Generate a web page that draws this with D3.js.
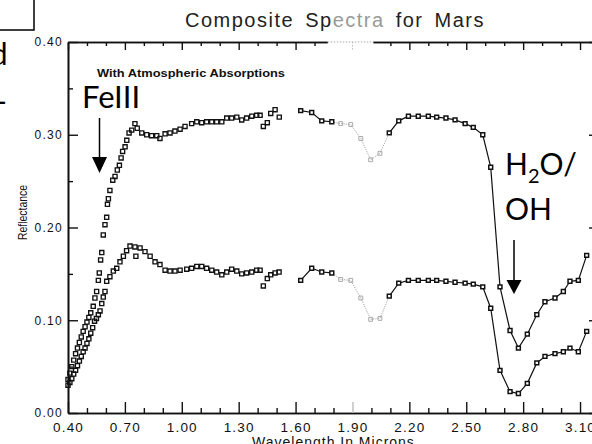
<!DOCTYPE html>
<html>
<head>
<meta charset="utf-8">
<script src="https://cdn.jsdelivr.net/npm/d3@7"></script>
<style>
  html, body { margin: 0; padding: 0; background: #fff; }
  svg { display: block; }
</style>
</head>
<body>
<svg id="chart" width="592" height="444"></svg>
<script>
// Composite reflectance spectra of Mars, two curves, 0.4 - 3.2 microns.

// Visible / near-IR scan: [wavelength (um), reflectance], drawn as open squares
const upperVis = [
  [0.40,0.036],[0.41,0.043],[0.42,0.050],[0.43,0.057],[0.44,0.064],[0.45,0.070],
  [0.46,0.076],[0.47,0.082],[0.48,0.088],[0.49,0.093],[0.50,0.098],[0.51,0.103],
  [0.52,0.108],[0.533,0.115],[0.542,0.124],[0.551,0.131],[0.560,0.143],[0.565,0.151],
  [0.572,0.165],[0.578,0.173],[0.586,0.192],[0.595,0.203],[0.604,0.211],[0.608,0.225],
  [0.613,0.231],[0.621,0.240],[0.636,0.251],[0.648,0.255],[0.660,0.262],[0.671,0.267],
  [0.680,0.275],[0.688,0.282],[0.701,0.287],[0.710,0.294],[0.722,0.302],[0.736,0.305],
  [0.753,0.312],[0.765,0.307],[0.789,0.302],[0.815,0.300],[0.841,0.299],[0.868,0.299],
  [0.885,0.296],[0.912,0.301],[0.938,0.302],[0.964,0.304],[0.991,0.306],[1.017,0.309],
  [1.052,0.312],[1.079,0.314],[1.105,0.313],[1.131,0.314],[1.158,0.314],[1.184,0.314],
  [1.211,0.314],[1.237,0.318],[1.263,0.318],[1.290,0.319],[1.316,0.316],[1.342,0.318],
  [1.369,0.320],[1.395,0.321],[1.413,0.321],[1.430,0.309],[1.451,0.313],[1.469,0.323],
  [1.492,0.327],[1.514,0.319]
];
const lowerVis = [
  [0.40,0.030],[0.41,0.033],[0.42,0.037],[0.43,0.042],[0.44,0.046],[0.45,0.051],
  [0.46,0.056],[0.47,0.061],[0.48,0.066],[0.49,0.070],[0.50,0.075],[0.51,0.080],
  [0.52,0.086],[0.53,0.092],[0.54,0.099],[0.55,0.102],[0.56,0.106],[0.569,0.110],
  [0.578,0.118],[0.586,0.125],[0.595,0.131],[0.604,0.142],[0.621,0.147],[0.639,0.153],
  [0.657,0.156],[0.674,0.163],[0.692,0.169],[0.709,0.175],[0.727,0.180],[0.753,0.179],
  [0.758,0.169],[0.780,0.178],[0.806,0.174],[0.833,0.169],[0.859,0.163],[0.885,0.160],
  [0.912,0.154],[0.938,0.153],[0.964,0.153],[0.991,0.154],[1.026,0.155],[1.052,0.156],
  [1.079,0.158],[1.105,0.158],[1.131,0.156],[1.158,0.154],[1.184,0.152],[1.211,0.149],
  [1.237,0.152],[1.263,0.155],[1.290,0.153],[1.316,0.150],[1.342,0.151],[1.369,0.152],
  [1.395,0.154],[1.413,0.154],[1.430,0.137],[1.451,0.145],[1.469,0.149],[1.492,0.151],
  [1.513,0.152]
];

// Infrared scan wavelengths (um): before, inside and after the 2.0 um CO2 band
const irWlA = [1.627, 1.685, 1.738, 1.791];
const irWlB = [1.838, 1.891, 1.944, 1.996, 2.045];
const irWlC = [2.094, 2.144, 2.195, 2.247, 2.300, 2.344, 2.393, 2.441, 2.494, 2.537,
               2.587, 2.629, 2.678, 2.731, 2.775, 2.822, 2.872, 2.915, 2.968, 3.012,
               3.047, 3.091, 3.135];

const upperIrA = [0.326, 0.324, 0.315, 0.314];
const upperIrB = [0.312, 0.311, 0.296, 0.273, 0.280];
const upperIrC = [0.302, 0.315, 0.320, 0.320, 0.320, 0.319, 0.318, 0.316, 0.312, 0.308,
                  0.300, 0.265, 0.136, 0.089, 0.070, 0.085, 0.106, 0.120, 0.124, 0.131,
                  0.142, 0.143, 0.170];

const lowerIrA = [0.143, 0.156, 0.152, 0.151];
const lowerIrB = [0.144, 0.143, 0.124, 0.101, 0.102];
const lowerIrC = [0.126, 0.140, 0.143, 0.143, 0.143, 0.143, 0.142, 0.141, 0.140, 0.139,
                  0.136, 0.113, 0.046, 0.023, 0.021, 0.032, 0.054, 0.061, 0.064, 0.066,
                  0.070, 0.066, 0.088];

// Axis ticks
const xMajorTicks = [0.40, 0.70, 1.00, 1.30, 1.60, 1.90, 2.20, 2.50, 2.80, 3.10];
const xMinorTicks = [0.50, 0.60, 0.80, 0.90, 1.10, 1.20, 1.40, 1.50, 1.70, 1.80,
                     2.00, 2.10, 2.30, 2.40, 2.60, 2.70, 2.90, 3.00];
const yMajorTicks = [0.00, 0.10, 0.20, 0.30, 0.40];
const yMinorTicks = [0.05, 0.15, 0.25, 0.35];

const svg = d3.select("#chart");
const x = d3.scaleLinear().domain([0.4, 3.2]).range([68, 599]);
const y = d3.scaleLinear().domain([0, 0.4]).range([413, 42]);
const fmt = d3.format(".2f");
const ink = "#111";
const sans = "'Liberation Sans', Arial, sans-serif";

// ---- axes (ticks point into the frame) ----
function styleAxis(g) {
  g.select(".domain").attr("stroke", ink).attr("stroke-width", 1.6);
  g.selectAll(".tick line").attr("stroke", ink).attr("stroke-width", 1.4);
}

svg.append("g").attr("transform", "translate(0,413)")
  .call(d3.axisBottom(x).tickValues(xMinorTicks).tickSize(-5).tickSizeOuter(0).tickFormat(""))
  .call(styleAxis);
const xBottom = svg.append("g").attr("transform", "translate(0,413)")
  .call(d3.axisBottom(x).tickValues(xMajorTicks).tickSize(-11).tickSizeOuter(0)
        .tickPadding(9).tickFormat(fmt))
  .call(styleAxis);
xBottom.selectAll("text")
  .attr("font-family", sans)
  .attr("font-size", 13.5).attr("letter-spacing", 1.2).attr("fill", ink);
xBottom.selectAll(".tick").filter(d => d === 1.90).select("line").attr("stroke", "#bbb");

svg.append("g").attr("transform", "translate(0,42)")
  .call(d3.axisTop(x).tickValues(xMinorTicks).tickSize(-4).tickSizeOuter(0).tickFormat(""))
  .call(styleAxis);
svg.append("g").attr("transform", "translate(0,42)")
  .call(d3.axisTop(x).tickValues(xMajorTicks).tickSize(-8).tickSizeOuter(0).tickFormat(""))
  .call(styleAxis);

svg.append("g").attr("transform", "translate(68,0)")
  .call(d3.axisLeft(y).tickValues(yMinorTicks).tickSize(-5).tickSizeOuter(0).tickFormat(""))
  .call(styleAxis);
const yLeft = svg.append("g").attr("transform", "translate(68,0)")
  .call(d3.axisLeft(y).tickValues(yMajorTicks).tickSize(-10).tickSizeOuter(0)
        .tickPadding(5).tickFormat(fmt))
  .call(styleAxis);
yLeft.selectAll("text")
  .attr("font-family", sans)
  .attr("font-size", 12).attr("letter-spacing", 1.3).attr("fill", ink);

svg.append("g").attr("transform", "translate(599,0)")
  .call(d3.axisRight(y).tickValues(yMinorTicks).tickSize(-5).tickSizeOuter(0).tickFormat(""))
  .call(styleAxis);
svg.append("g").attr("transform", "translate(599,0)")
  .call(d3.axisRight(y).tickValues(yMajorTicks).tickSize(-10).tickSizeOuter(0).tickFormat(""))
  .call(styleAxis);

// faded stretch of the upper frame edge
svg.append("rect").attr("x", x(1.77)).attr("y", 40).attr("width", x(2.01) - x(1.77)).attr("height", 11)
  .attr("fill", "#fff");
svg.append("line").attr("x1", x(1.77)).attr("x2", x(2.01)).attr("y1", 42).attr("y2", 42)
  .attr("stroke", "#aaa").attr("stroke-width", 1.2).attr("stroke-dasharray", "1.5,1.5");
svg.append("line").attr("x1", x(1.9)).attr("x2", x(1.9)).attr("y1", 42).attr("y2", 50)
  .attr("stroke", "#bbb").attr("stroke-width", 1).attr("stroke-dasharray", "1.5,1.5");

// ---- data ----
const sqVis = d3.symbol().type(d3.symbolSquare).size(17)();
const sqIr = d3.symbol().type(d3.symbolSquare).size(15)();

function openSquares(pts) {
  svg.append("g").selectAll("path").data(pts).join("path")
    .attr("d", sqVis)
    .attr("transform", d => `translate(${x(d[0])},${y(d[1])})`)
    .attr("fill", "none").attr("stroke", ink).attr("stroke-width", 1.35);
}
openSquares(upperVis);
openSquares(lowerVis);

const line = d3.line().x(d => x(d[0])).y(d => y(d[1]));
const pair = (wl, r) => wl.map((w, i) => [w, r[i]]);

function irCurve(a, b, c) {
  // faint dotted band segment, joined to its neighbours
  const band = [a[a.length - 1], ...b, c[0]];
  svg.append("path").attr("d", line(band)).attr("fill", "none")
    .attr("stroke", "#999").attr("stroke-width", 0.9).attr("stroke-dasharray", "1.2,1.2");
  svg.append("g").selectAll("path").data(b).join("path")
    .attr("d", sqIr).attr("transform", d => `translate(${x(d[0])},${y(d[1])})`)
    .attr("fill", "none").attr("stroke", "#aaa").attr("stroke-width", 1);
  [a, c].forEach(seg => {
    svg.append("path").attr("d", line(seg)).attr("fill", "none")
      .attr("stroke", ink).attr("stroke-width", 1.2);
    svg.append("g").selectAll("path").data(seg).join("path")
      .attr("d", sqIr).attr("transform", d => `translate(${x(d[0])},${y(d[1])})`)
      .attr("fill", "#fff").attr("stroke", ink).attr("stroke-width", 1.5);
  });
}
irCurve(pair(irWlA, upperIrA), pair(irWlB, upperIrB), pair(irWlC, upperIrC));
irCurve(pair(irWlA, lowerIrA), pair(irWlB, lowerIrB), pair(irWlC, lowerIrC));

// ---- titles ----
const title = svg.append("text").attr("x", 185).attr("y", 27)
  .attr("font-family", sans)
  .attr("font-size", 20).attr("letter-spacing", 1.5).attr("word-spacing", 4).attr("fill", "#222");
title.append("tspan").text("Composite Sp");
title.append("tspan").attr("fill", "#999").text("ectra");
title.append("tspan").text(" for Mars");

svg.append("text").attr("x", 97).attr("y", 77)
  .attr("font-family", sans).attr("font-weight", "bold")
  .attr("font-size", 11).attr("textLength", 188).attr("lengthAdjust", "spacingAndGlyphs")
  .attr("fill", ink).text("With Atmospheric Absorptions");

svg.append("text").attr("transform", "translate(26.5,212.5) rotate(-90)")
  .attr("text-anchor", "middle")
  .attr("font-family", sans)
  .attr("font-size", 13).attr("textLength", 55).attr("lengthAdjust", "spacingAndGlyphs")
  .attr("fill", ink).text("Reflectance");

svg.append("text").attr("x", 252).attr("y", 447)
  .attr("font-family", sans)
  .attr("font-size", 14).attr("letter-spacing", 1).attr("fill", ink)
  .text("Wavelength In Microns");

// ---- band annotations ----
const anno = "Lato, 'Open Sans', sans-serif";
svg.append("text").attr("x", 82).attr("y", 108).attr("font-family", anno)
  .attr("font-size", 31).attr("fill", "#000").text("FeIII");

const h2o = svg.append("text").attr("x", 505).attr("y", 175).attr("font-family", anno)
  .attr("font-size", 30).attr("fill", "#000");
h2o.append("tspan").text("H");
h2o.append("tspan").attr("font-size", 20).attr("dy", 8).text("2");
h2o.append("tspan").attr("dy", -8).text("O/");
svg.append("text").attr("x", 505).attr("y", 220).attr("font-family", anno)
  .attr("font-size", 30).attr("fill", "#000").text("OH");

function arrow(cx, y0, y1, tip) {
  svg.append("line").attr("x1", cx).attr("x2", cx).attr("y1", y0).attr("y2", y1)
    .attr("stroke", "#000").attr("stroke-width", 1.5);
  svg.append("path")
    .attr("d", `M${cx - 7.5},${y1} L${cx + 7.5},${y1} L${cx},${tip} Z`)
    .attr("fill", "#000");
}
arrow(99.5, 118, 157, 173);
arrow(514, 240, 280, 294);

// ---- fragments along the left edge ----
svg.append("path").attr("d", "M0,30 H34 V0").attr("fill", "none")
  .attr("stroke", "#000").attr("stroke-width", 1.5);
svg.append("text").attr("x", 7.5).attr("y", 65).attr("text-anchor", "end")
  .attr("font-family", anno).attr("font-size", 30).attr("fill", "#000").text("d");
svg.append("text").attr("x", 7).attr("y", 112).attr("text-anchor", "end")
  .attr("font-family", anno).attr("font-size", 30).attr("fill", "#000").text("-");
</script>
</body>
</html>
